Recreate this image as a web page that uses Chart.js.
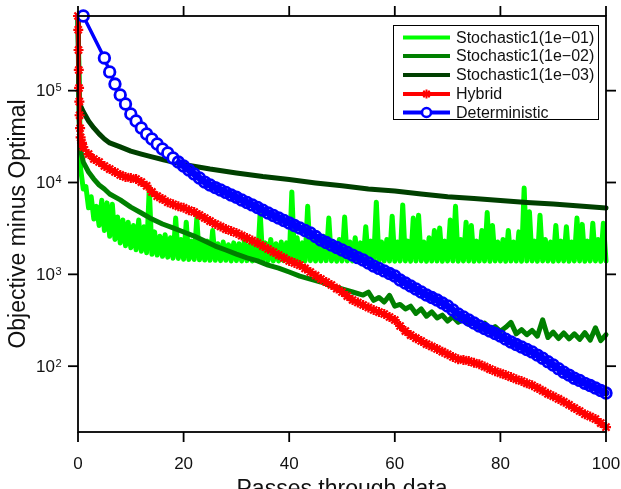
<!DOCTYPE html>
<html>
<head>
<meta charset="utf-8">
<script src="https://cdn.jsdelivr.net/npm/chart.js@4.4.1/dist/chart.umd.min.js"></script>
<style>
  html, body { margin: 0; padding: 0; background: #fff; }
  canvas { display: block; }
</style>
</head>
<body>
<canvas id="chart" width="621" height="489"></canvas>
<script>
// ── DATA ──
const seriesNames = ['Stochastic1(1e\u221201)', 'Stochastic1(1e\u221202)', 'Stochastic1(1e\u221203)', 'Hybrid', 'Deterministic'];
const xTicks = [0, 20, 40, 60, 80, 100];
const yTicks = [1e2, 1e3, 1e4, 1e5];

// evenly spaced pass grid (x positions only)
function steps(from, to, step) {
  const out = [];
  for (let v = from; v <= to + 1e-9; v += step) out.push(+v.toFixed(2));
  return out;
}

const stoch1Passes = steps(0, 100, 0.5);
const stoch1Values = [
  650000,14000,8500,9000,5300,7000,4000,5500,3400,6400,3000,6000,2600,5800,2400,4200,2200,3900,2050,3700,
  1950,3400,1850,3900,1780,3300,1720,8700,1650,2900,1620,2600,1570,2700,1540,2500,1500,4100,1490,2400,
  1460,3700,1450,2300,1450,4100,1440,2200,1430,2300,1420,3000,1420,2150,1410,2250,1420,2100,1400,2200,
  1410,2150,1400,2300,1410,2100,1400,2250,1420,4700,1400,2200,1410,2400,1400,2150,1400,2250,1410,2200,
  1400,7900,1410,2500,1400,2200,1400,5500,1410,2300,1400,2200,1400,2600,1410,4100,1400,2200,1390,2400,
  1400,4200,1400,2250,1400,2500,1390,2200,1400,3300,1400,2300,1390,6100,1400,2250,1400,2400,1400,4300,
  1390,2250,1400,5700,1400,2300,1390,4100,1400,4400,1400,2250,1390,2500,1400,3000,1400,3200,1390,2300,
  1400,3900,1400,5500,1390,2400,1400,3700,1400,3400,1390,2300,1400,3000,1400,4700,1390,3400,1400,2250,
  1400,2400,1390,3000,1400,2250,1400,2900,1390,8700,1400,4800,1400,2300,1390,4400,1400,2400,1400,2250,
  1390,3400,1400,2300,1400,3300,1390,2250,1400,4100,1400,3500,1390,2300,1400,3600,1400,2400,1390,3600,
  1400
];

const stoch2Passes = [0, 0.2, 0.5, 1, 2, 3, 4, 5, 6].concat(steps(8, 54, 2), steps(55, 100, 1));
const stoch2Values = [
  650000,47900,22600,16700,13000,10900,9400,8500,7500,
  6460,5400,4660,4000,3530,3200,2890,2610,2300,2030,1840,1660,1510,1400,1260,1170,1060,958,889,825,746,692,642,595,
  640,520,560,500,590,450,470,420,450,375,420,350,390,335,360,310,345,300,320,285,300,260,295,250,270,240,
  265,300,225,250,220,245,212,320,205,235,200,230,198,225,196,232,192,262,190,220
];

const stoch3Passes = [0, 0.2, 0.5, 1, 2, 3, 4, 5, 6].concat(steps(8, 20, 2), steps(25, 100, 5));
const stoch3Values = [
  650000,79000,68000,59000,46800,39300,33800,29800,27000,
  24400,22000,20400,19000,17800,16700,15700,
  14000,12700,11600,10800,9900,9200,8500,8100,7500,7000,6700,6370,6060,5830,5550,5270
];

const hybridPasses = [0, 0.05, 0.1, 0.15, 0.2, 0.25, 0.3, 0.4, 0.5, 0.75].concat(steps(1, 100, 1));
const hybridValues = [
  650000,460000,277000,168000,107000,76000,54000,39000,31000,27000,
  24300,20400,18000,16700,15100,14000,13000,12100,11500,11200,
  10900,10100,9200,7900,7100,6600,6100,5800,5500,5300,
  5000,4770,4420,4100,3800,3530,3320,3110,2960,2820,
  2640,2480,2330,2190,2030,1890,1750,1620,1510,1400,
  1330,1260,1160,1060,970,889,825,765,700,642,
  580,525,493,463,435,409,388,370,343,318,
  274,241,218,202,188,174,164,154,144,135,
  126,119,117,114,109,105,99,93,88,84,
  80,76,72,69,65,62,58,54,50,47,
  44,41,38,35,32.5,30,28.3,26.6,24,21.7
];

const detPasses = [1].concat(steps(5, 100, 1));
const detValues = [
  650000,
  227000,160000,118000,89800,71600,55700,46800,39300,33800,29800,26300,23200,21000,18500,16700,15100,
  13700,12400,11200,10100,9400,8800,8300,7800,7300,6900,
  6460,6060,5700,5350,5000,4660,4370,4100,3860,3620,
  3400,3200,3000,2820,2580,2360,2220,2080,1960,1840,
  1730,1620,1520,1430,1330,1230,1160,1090,1020,958,
  867,804,746,692,642,595,559,525,487,452,
  409,370,343,318,295,274,257,241,227,213,
  197,183,172,162,152,143,132,122,112,103,
  94,86,80,74,70,65,61.5,57.8,54.3,51
];

// ── STYLE ──
const FONT = "'Liberation Sans', Arial, sans-serif";
const COLORS = ['#00ff00', '#008000', '#004000', '#ff0000', '#0000ff'];

function zip(xs, ys) {
  const n = Math.min(xs.length, ys.length);
  const out = [];
  for (let i = 0; i < n; i++) out.push({ x: xs[i], y: ys[i] });
  return out;
}

const lineBase = { pointRadius: 0, tension: 0, clip: false, borderJoinStyle: 'round', borderCapStyle: 'round' };

const datasets = [
  { ...lineBase, label: seriesNames[0], data: zip(stoch1Passes, stoch1Values), borderColor: COLORS[0], borderWidth: 5, order: 5 },
  { ...lineBase, label: seriesNames[1], data: zip(stoch2Passes, stoch2Values), borderColor: COLORS[1], borderWidth: 5, order: 4 },
  { ...lineBase, label: seriesNames[2], data: zip(stoch3Passes, stoch3Values), borderColor: COLORS[2], borderWidth: 5, order: 3 },
  { ...lineBase, label: seriesNames[3], data: zip(hybridPasses, hybridValues), borderColor: COLORS[3], borderWidth: 4, order: 2,
    pointStyle: 'star', pointRadius: 5, pointBorderWidth: 2.2, pointBorderColor: COLORS[3], pointBackgroundColor: COLORS[3] },
  { ...lineBase, label: seriesNames[4], data: zip(detPasses, detValues), borderColor: COLORS[4], borderWidth: 3.5, order: 1,
    pointStyle: 'circle', pointRadius: 5.3, pointBorderWidth: 2.8, pointBorderColor: COLORS[4],
    pointBackgroundColor: c => (c.raw && c.raw.x <= 18 ? '#ffffff' : 'rgba(255,255,255,0)'),
    segment: { borderWidth: c => (c.p0.parsed.x >= 19 ? 7 : 3.5) } }
];

// ── AXES, LABELS, LEGEND ──
function seg(ctx, x1, y1, x2, y2) {
  ctx.beginPath(); ctx.moveTo(x1, y1); ctx.lineTo(x2, y2); ctx.stroke();
}

const frame = {
  id: 'frame',
  afterDatasetsDraw(chart) {
    const { ctx, chartArea: a, scales: { x, y } } = chart;
    ctx.save();
    ctx.strokeStyle = '#000';
    ctx.lineWidth = 1.8;
    ctx.strokeRect(a.left, a.top, a.right - a.left, a.bottom - a.top);

    ctx.fillStyle = '#111';
    ctx.font = `17px ${FONT}`;
    ctx.textAlign = 'center';
    ctx.textBaseline = 'middle';
    xTicks.forEach(v => {
      const px = x.getPixelForValue(v);
      seg(ctx, px, a.bottom, px, a.bottom + 10);
      seg(ctx, px, a.top, px, a.top - 10);
      ctx.fillText(String(v), px, 464);
    });

    yTicks.forEach(v => {
      const py = y.getPixelForValue(v);
      seg(ctx, a.left - 10, py, a.left, py);
      seg(ctx, a.right, py, a.right + 10, py);
      ctx.font = `17px ${FONT}`;
      ctx.textAlign = 'right';
      ctx.textBaseline = 'middle';
      ctx.fillText('10', 55, py + 1);
      ctx.font = `11px ${FONT}`;
      ctx.textAlign = 'left';
      ctx.textBaseline = 'top';
      ctx.fillText(String(Math.round(Math.log10(v))), 55.5, py - 8);
    });

    // axis titles
    ctx.font = `23px ${FONT}`;
    ctx.textAlign = 'center';
    ctx.textBaseline = 'alphabetic';
    ctx.fillText('Passes through data', (a.left + a.right) / 2, 496);
    ctx.save();
    ctx.translate(25, (a.top + a.bottom) / 2);
    ctx.rotate(-Math.PI / 2);
    ctx.fillText('Objective minus Optimal', 0, 0);
    ctx.restore();

    // legend box
    const bx = 393.5, by = 25.5, bw = 205, bh = 94;
    ctx.fillStyle = '#fff';
    ctx.fillRect(bx, by, bw, bh);
    ctx.lineWidth = 1;
    ctx.strokeStyle = '#000';
    ctx.strokeRect(bx, by, bw, bh);
    const rows = [37.5, 56, 75, 94, 112.5];
    ctx.font = `16px ${FONT}`;
    ctx.textAlign = 'left';
    ctx.textBaseline = 'middle';
    seriesNames.forEach((name, i) => {
      const ry = rows[i];
      ctx.strokeStyle = COLORS[i];
      ctx.lineWidth = 4;
      ctx.lineCap = 'butt';
      seg(ctx, 403, ry, 450, ry);
      if (i === 3) {
        ctx.lineWidth = 2;
        for (let k = 0; k < 4; k++) {
          const ang = k * Math.PI / 4;
          seg(ctx, 426.5 - 4.5 * Math.cos(ang), ry - 4.5 * Math.sin(ang), 426.5 + 4.5 * Math.cos(ang), ry + 4.5 * Math.sin(ang));
        }
      }
      if (i === 4) {
        ctx.lineWidth = 2.5;
        ctx.fillStyle = '#fff';
        ctx.beginPath(); ctx.arc(426.5, ry, 4.5, 0, Math.PI * 2); ctx.fill(); ctx.stroke();
      }
      ctx.fillStyle = '#111';
      ctx.fillText(name, 456, ry + 1);
    });
    ctx.restore();
  }
};

new Chart(document.getElementById('chart').getContext('2d'), {
  type: 'line',
  data: { datasets },
  options: {
    responsive: false,
    animation: false,
    events: [],
    layout: { padding: { left: 78, right: 15, top: 16, bottom: 57 } },
    scales: {
      x: { type: 'linear', min: 0, max: 100, display: false },
      y: { type: 'logarithmic', min: 19.2, max: 650000, display: false }
    },
    plugins: { legend: { display: false }, tooltip: { enabled: false } }
  },
  plugins: [frame]
});
</script>
</body>
</html>
